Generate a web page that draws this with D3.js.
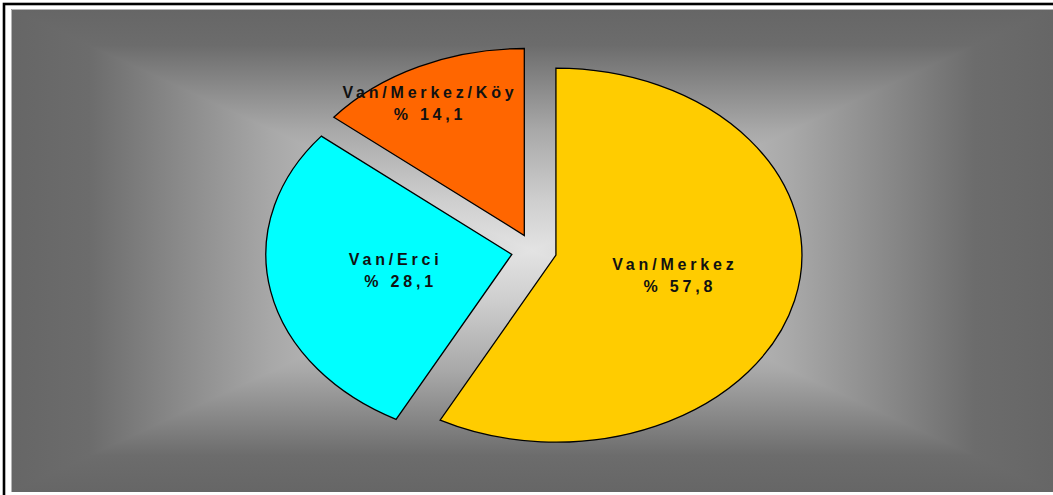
<!DOCTYPE html>
<html>
<head>
<meta charset="utf-8">
<script src="https://cdn.jsdelivr.net/npm/d3@7"></script>
<style>
html,body{margin:0;padding:0;background:#fff;}
svg{display:block;}
</style>
</head>
<body>
<svg id="chart" width="1053" height="495"></svg>
<script>
// ---- data ----
const categories = ["Van/Merkez", "Van/Erci", "Van/Merkez/Köy"];
const values = [57.8, 28.1, 14.1];
const valueLabels = ["% 57,8", "% 28,1", "% 14,1"];
const colors = ["#FFCC00", "#00FFFF", "#FF6600"];

const W = 1053, H = 495;
const svg = d3.select("#chart");
const defs = svg.append("defs");

// outer frame
svg.append("rect").attr("x", 4).attr("y", 4).attr("width", W + 20).attr("height", H + 20)
  .attr("fill", "#fff").attr("stroke", "#000").attr("stroke-width", 2.6);

// plot area with rectangular "from centre" gradient
const px0 = 11, py0 = 9, px1 = 1053, py1 = 492;
const gcx = (px0 + px1) / 2, gcy = (py0 + py1) / 2;
const stops = [[0, "#666666"], [0.15, "#6c6c6c"], [0.5, "#a8a8a8"], [0.8, "#cfcfcf"], [1, "#e3e3e3"]];
function grad(id, x1, y1, x2, y2) {
  const g = defs.append("linearGradient").attr("id", id).attr("gradientUnits", "userSpaceOnUse")
    .attr("x1", x1).attr("y1", y1).attr("x2", x2).attr("y2", y2);
  stops.forEach(s => g.append("stop").attr("offset", s[0]).attr("stop-color", s[1]));
}
grad("gL", px0, 0, gcx, 0);
grad("gR", px1, 0, gcx, 0);
grad("gT", 0, py0, 0, gcy);
grad("gB", 0, py1, 0, gcy);
const bg = svg.append("g");
bg.append("rect").attr("x", px0).attr("y", py0).attr("width", gcx - px0 + 0.5).attr("height", py1 - py0).attr("fill", "url(#gL)");
bg.append("rect").attr("x", gcx).attr("y", py0).attr("width", px1 - gcx).attr("height", py1 - py0).attr("fill", "url(#gR)");
bg.append("path").attr("d", `M${px0},${py0}L${px1},${py0}L${gcx},${gcy}Z`).attr("fill", "url(#gT)");
bg.append("path").attr("d", `M${px0},${py1}L${px1},${py1}L${gcx},${gcy}Z`).attr("fill", "url(#gB)");
bg.append("path").attr("d", `M${px0 + 0.5},${py1}L${px0 + 0.5},${py0 + 0.5}L${px1},${py0 + 0.5}`)
  .attr("fill", "none").attr("stroke", "#b5b5b5").attr("stroke-width", 1);

// pie
const cx = 534, cy = 251, R = 246, k = 0.76, explode = 22.6;
const pie = d3.pie().sort(null).startAngle(0).endAngle(2 * Math.PI);
const arcs = pie(values);
const arc = d3.arc().innerRadius(0).outerRadius(R);

const slices = svg.append("g").selectAll("g").data(arcs).join("g")
  .attr("transform", d => {
    const m = (d.startAngle + d.endAngle) / 2;
    const ox = cx + explode * Math.sin(m), oy = cy - explode * Math.cos(m) * k;
    return `translate(${ox},${oy}) scale(1,${k})`;
  });
slices.append("path").attr("d", arc)
  .attr("fill", (d, i) => colors[i])
  .attr("stroke", "#000").attr("stroke-width", 1.3)
  .attr("vector-effect", "non-scaling-stroke")
  .attr("stroke-linejoin", "miter");

// labels
const labels = svg.append("g").selectAll("text").data(arcs).join("text")
  .attr("font-family", "'Liberation Sans', Arial, sans-serif")
  .attr("font-weight", "bold").attr("font-size", 16)
  .attr("letter-spacing", 3.8)
  .attr("fill", "#111")
  .attr("text-anchor", "middle")
  .each(function (d, i) {
    const m = (d.startAngle + d.endAngle) / 2;
    const small = (d.endAngle - d.startAngle) < Math.PI / 2;
    const rr = small ? 0.8 * R : 0.49 * R;
    const ox = cx + explode * Math.sin(m), oy = cy - explode * Math.cos(m) * k;
    let x = ox + rr * Math.sin(m) + (small ? -12 : 0);
    let y = oy - rr * Math.cos(m) * k + (small ? 4 : -1);
    const t = d3.select(this);
    t.append("tspan").attr("x", x + 2).attr("y", y - 6).text(categories[i]);
    t.append("tspan").attr("x", x + 2 + (small ? 0 : 5)).attr("y", y + 16).text(valueLabels[i]);
  });
</script>
</body>
</html>
